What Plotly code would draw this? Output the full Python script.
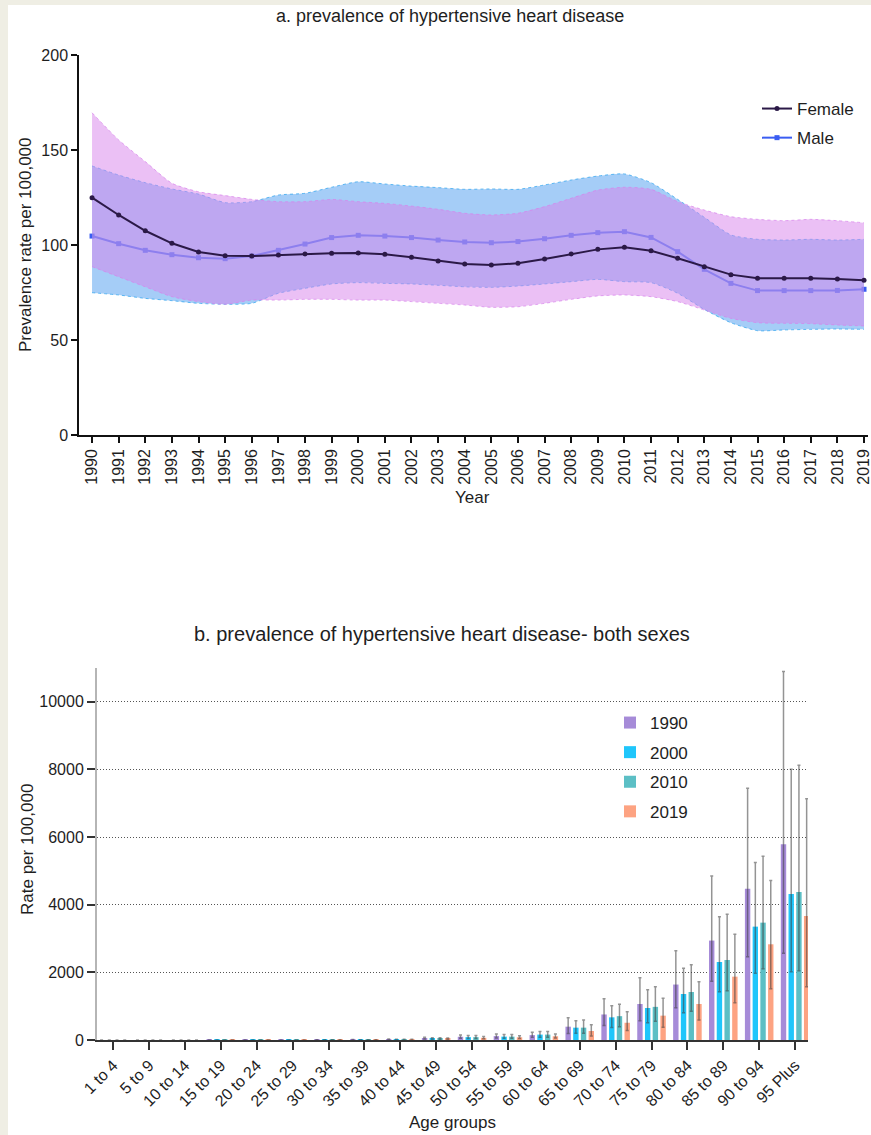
import plotly.graph_objects as go

# ---------------- Panel a: prevalence by sex over time ----------------
years = list(range(1990, 2020))

female = [124.9, 115.8, 107.5, 100.9, 96.3, 94.4, 94.2, 94.7, 95.3, 95.6,
          95.8, 95.1, 93.5, 91.6, 90.0, 89.5, 90.4, 92.6, 95.3, 97.7,
          98.8, 97.0, 93.0, 88.6, 84.4, 82.5, 82.5, 82.5, 82.1, 81.4]
female_upper = [169.6, 155.3, 143.9, 132.5, 128.0, 126.0, 124.0, 122.8, 122.8, 124.0,
                122.8, 121.9, 120.5, 118.8, 116.7, 115.8, 116.7, 120.2, 124.6, 128.9,
                130.4, 129.3, 122.8, 118.4, 114.9, 113.5, 112.8, 113.5, 112.8, 111.7]
female_lower = [88.6, 83.3, 78.0, 72.8, 70.2, 68.8, 71.0, 71.0, 71.4, 71.4,
                71.0, 71.0, 70.2, 69.3, 68.4, 67.2, 67.5, 69.3, 71.4, 73.2,
                73.7, 72.8, 70.2, 65.8, 61.4, 59.1, 58.8, 58.6, 57.9, 57.4]

male = [104.7, 100.7, 97.2, 94.9, 93.3, 92.8, 94.2, 97.2, 100.5, 103.9,
        105.1, 104.7, 103.9, 102.6, 101.6, 101.2, 101.8, 103.3, 105.1, 106.5,
        107.0, 104.0, 96.5, 87.2, 79.8, 76.0, 76.0, 76.0, 76.1, 76.7]
male_upper = [141.6, 136.8, 132.8, 129.5, 126.8, 122.3, 122.8, 126.3, 127.2, 130.4,
              133.3, 132.1, 131.0, 130.2, 129.3, 129.5, 129.3, 131.6, 134.2, 136.3,
              137.4, 132.8, 124.0, 114.6, 105.3, 103.0, 102.6, 103.0, 102.6, 103.0]
male_lower = [74.9, 73.7, 71.9, 70.7, 69.3, 68.8, 69.3, 74.6, 77.2, 79.5,
              80.2, 79.8, 79.5, 78.8, 78.0, 77.7, 78.4, 79.5, 80.7, 81.9,
              80.7, 80.2, 74.6, 66.1, 59.1, 54.9, 55.3, 55.6, 55.8, 55.6]

# ---------------- Panel b: prevalence by age group ----------------
age_groups = ["1 to 4", "5 to 9", "10 to 14", "15 to 19", "20 to 24", "25 to 29",
              "30 to 34", "35 to 39", "40 to 44", "45 to 49", "50 to 54", "55 to 59",
              "60 to 64", "65 to 69", "70 to 74", "75 to 79", "80 to 84", "85 to 89",
              "90 to 94", "95 Plus"]
bar_years = ["1990", "2000", "2010", "2019"]

rate = {
    "1990": [0, 0, 0.1, 0.3, 1, 2, 4, 8, 17, 48, 95, 115, 145, 394, 755, 1065, 1640, 2940, 4476, 5787],
    "2000": [0, 0, 0.1, 0.3, 0.8, 1.8, 3.5, 7, 15, 42, 85, 100, 160, 365, 670, 947, 1360, 2307, 3352, 4318],
    "2010": [0, 0, 0.1, 0.3, 0.8, 1.8, 3.5, 7, 15, 42, 85, 100, 160, 365, 705, 980, 1420, 2366, 3470, 4377],
    "2019": [0, 0, 0.1, 0.2, 0.6, 1.4, 2.8, 6, 12, 35, 65, 80, 110, 266, 510, 720, 1065, 1873, 2830, 3667],
}
rate_upper = {
    "1990": [0, 0, 0.2, 0.5, 1.7, 3.3, 6.5, 13, 28, 80, 150, 180, 230, 660, 1218, 1840, 2640, 4850, 7444, 10900],
    "2000": [0, 0, 0.2, 0.5, 1.3, 3.0, 5.6, 11, 24, 68, 135, 160, 250, 572, 1016, 1489, 2120, 3647, 5245, 8006],
    "2010": [0, 0, 0.2, 0.5, 1.3, 3.0, 5.6, 11, 24, 68, 135, 160, 250, 592, 1055, 1573, 2228, 3717, 5432, 8124],
    "2019": [0, 0, 0.2, 0.3, 1.0, 2.3, 4.5, 10, 19, 56, 105, 128, 175, 453, 833, 1233, 1726, 3126, 4713, 7134],
}
rate_lower = {
    "1990": [0, 0, 0.05, 0.15, 0.5, 1.0, 2.0, 4, 9, 26, 50, 62, 78, 190, 430, 572, 957, 1735, 2465, 2563],
    "2000": [0, 0, 0.05, 0.15, 0.4, 0.9, 1.8, 4, 8, 23, 45, 54, 85, 197, 370, 513, 808, 1430, 1972, 2021],
    "2010": [0, 0, 0.05, 0.15, 0.4, 0.9, 1.8, 4, 8, 23, 45, 54, 85, 197, 395, 552, 853, 1460, 2110, 2050],
    "2019": [0, 0, 0.05, 0.1, 0.3, 0.7, 1.4, 3, 6, 18, 34, 42, 58, 118, 281, 380, 592, 1104, 1518, 1577],
}
bar_colors = {"1990": "#a68bd8", "2000": "#1fc6fb", "2010": "#5cbfc5", "2019": "#fda382"}

y2_ticks = [0, 2000, 4000, 6000, 8000, 10000]

W, H = 871, 1135
FONT = "Arial, 'Liberation Sans', sans-serif"
INK = "#1e1e1e"


def fx(px):
    return px / W


def fy(py):
    return 1 - py / H


fig = go.Figure()

# Male line sits underneath the shaded bands
fig.add_trace(go.Scatter(
    x=years, y=male, mode="lines+markers", name="Male",
    line=dict(color="#3a5df2", width=2),
    marker=dict(symbol="square", size=5, color="#3a5df2"),
    xaxis="x", yaxis="y", legend="legend", legendgroup="m", legendrank=2,
))

# Male uncertainty band
fig.add_trace(go.Scatter(
    x=years, y=male_upper, mode="lines", showlegend=False, hoverinfo="skip",
    line=dict(color="rgba(60,170,240,0.8)", width=1, dash="dot", shape="spline", smoothing=0.6),
    xaxis="x", yaxis="y",
))
fig.add_trace(go.Scatter(
    x=years, y=male_lower, mode="lines", showlegend=False, hoverinfo="skip",
    fill="tonexty", fillcolor="rgba(75,155,239,0.5)",
    line=dict(color="rgba(60,170,240,0.8)", width=1, dash="dot", shape="spline", smoothing=0.6),
    xaxis="x", yaxis="y",
))

# Female uncertainty band
fig.add_trace(go.Scatter(
    x=years, y=female_upper, mode="lines", showlegend=False, hoverinfo="skip",
    line=dict(color="rgba(215,130,235,0.7)", width=1, dash="dot", shape="spline", smoothing=0.6),
    xaxis="x", yaxis="y",
))
fig.add_trace(go.Scatter(
    x=years, y=female_lower, mode="lines", showlegend=False, hoverinfo="skip",
    fill="tonexty", fillcolor="rgba(215,129,235,0.5)",
    line=dict(color="rgba(215,130,235,0.7)", width=1, dash="dot", shape="spline", smoothing=0.6),
    xaxis="x", yaxis="y",
))

# Female line on top
fig.add_trace(go.Scatter(
    x=years, y=female, mode="lines+markers", name="Female",
    line=dict(color="#2b1947", width=2),
    marker=dict(symbol="circle", size=5, color="#2b1947"),
    xaxis="x", yaxis="y", legend="legend", legendgroup="f", legendrank=1,
))

# Bars with asymmetric uncertainty intervals
for yr in bar_years:
    vals = rate[yr]
    up = [u - v for u, v in zip(rate_upper[yr], vals)]
    lo = [v - l for v, l in zip(vals, rate_lower[yr])]
    fig.add_trace(go.Bar(
        x=age_groups, y=vals, name=yr,
        marker=dict(color=bar_colors[yr], line=dict(width=0)),
        error_y=dict(type="data", symmetric=False, array=up, arrayminus=lo,
                     color="rgba(60,60,60,0.55)", thickness=1.5, width=1.5),
        xaxis="x2", yaxis="y2", legend="legend2", legendgroup=yr,
    ))

tick_font = dict(family=FONT, size=16, color=INK)
title_font = dict(family=FONT, size=17, color=INK)

fig.update_layout(
    template="none",
    width=W, height=H,
    margin=dict(l=0, r=0, t=0, b=0),
    paper_bgcolor="white",
    plot_bgcolor="rgba(0,0,0,0)",
    font=dict(family=FONT, size=16, color=INK),
    barmode="group",
    bargap=0.14,
    bargroupgap=0.3,
    xaxis=dict(
        domain=[fx(79), fx(868)], anchor="y",
        range=[1989.51, 2019.15], tickmode="array", tickvals=years,
        ticktext=[str(y) for y in years], tickangle=-90, ticklabeloverflow="allow",
        showline=True, linecolor="#111", linewidth=1.5,
        ticks="outside", ticklen=6, tickwidth=1.5, tickcolor="#111",
        showgrid=False, zeroline=False, tickfont=tick_font, automargin=False,
    ),
    yaxis=dict(
        domain=[fy(435), fy(55)], anchor="x",
        range=[0, 200], tickvals=[0, 50, 100, 150, 200],
        showline=True, linecolor="#111", linewidth=1.5,
        ticks="outside", ticklen=6, tickwidth=1.5, tickcolor="#111",
        showgrid=False, zeroline=False, tickfont=tick_font, automargin=False,
    ),
    xaxis2=dict(
        domain=[fx(97), fx(808)], anchor="y2", type="category",
        range=[-0.45, 19.36], tickangle=-45, ticklabeloverflow="allow",
        showline=True, linecolor="#333", linewidth=1.5,
        ticks="outside", ticklen=8, tickwidth=1.5, tickcolor="#333",
        showgrid=False, zeroline=False, tickfont=tick_font, automargin=False,
    ),
    yaxis2=dict(
        domain=[fy(1040), fy(668)], anchor="x2",
        range=[0, 11000], tickmode="array", tickvals=y2_ticks,
        ticktext=[str(v) for v in y2_ticks],
        showline=True, linecolor="#b5b5b5", linewidth=2,
        ticks="outside", ticklen=8, tickwidth=1.5, tickcolor="#333",
        showgrid=True, gridcolor="#555", gridwidth=1, griddash="1px,2px",
        zeroline=False, tickfont=tick_font, automargin=False,
    ),
    legend=dict(
        x=fx(757), y=fy(91), xanchor="left", yanchor="top",
        bgcolor="rgba(0,0,0,0)", font=dict(family=FONT, size=17, color=INK),
        tracegroupgap=4, itemwidth=30,
    ),
    legend2=dict(
        x=fx(610), y=fy(705), xanchor="left", yanchor="top",
        bgcolor="rgba(0,0,0,0)", font=dict(family=FONT, size=17, color=INK),
        tracegroupgap=4.5, itemwidth=30,
    ),
    shapes=[
        # beige page border along the left and top edges
        dict(type="rect", xref="paper", yref="paper", x0=0, x1=fx(8), y0=0, y1=1,
             fillcolor="#efeee4", line=dict(width=0), layer="below"),
        dict(type="rect", xref="paper", yref="paper", x0=0, x1=1, y0=fy(5), y1=1,
             fillcolor="#efeee4", line=dict(width=0), layer="below"),
    ],
    annotations=[
        dict(text="a. prevalence of hypertensive heart disease", x=fx(450), y=fy(16),
             xref="paper", yref="paper", showarrow=False, xanchor="center", yanchor="middle",
             font=dict(family=FONT, size=18, color=INK)),
        dict(text="Prevalence rate per 100,000", x=fx(25), y=fy(245), textangle=-90,
             xref="paper", yref="paper", showarrow=False, xanchor="center", yanchor="middle",
             font=title_font),
        dict(text="Year", x=fx(472), y=fy(497),
             xref="paper", yref="paper", showarrow=False, xanchor="center", yanchor="middle",
             font=title_font),
        dict(text="b. prevalence of hypertensive heart disease- both sexes", x=fx(192), y=fy(634),
             xref="paper", yref="paper", showarrow=False, xanchor="left", yanchor="middle",
             font=dict(family=FONT, size=20, color=INK)),
        dict(text="Rate per 100,000", x=fx(27), y=fy(850), textangle=-90,
             xref="paper", yref="paper", showarrow=False, xanchor="center", yanchor="middle",
             font=title_font),
        dict(text="Age groups", x=fx(452), y=fy(1122),
             xref="paper", yref="paper", showarrow=False, xanchor="center", yanchor="middle",
             font=title_font),
    ],
)

fig.write_html("out.html")
